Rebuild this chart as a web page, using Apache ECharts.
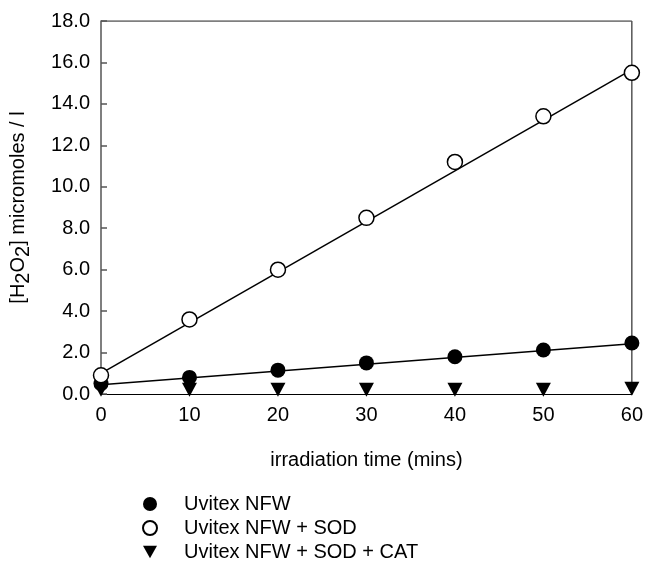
<!DOCTYPE html>
<html>
<head>
<meta charset="utf-8">
<script src="https://cdn.jsdelivr.net/npm/echarts@6/dist/echarts.min.js"></script>
<style>
  html, body { margin: 0; padding: 0; background: #fff; }
  #chart { width: 646px; height: 562px; }
</style>
</head>
<body>
<div id="chart"></div>
<script>
// irradiation time (mins)
const times = [0, 10, 20, 30, 40, 50, 60]
// [H2O2] micromoles / l
const nfw = [0.5, 0.8, 1.15, 1.5, 1.8, 2.12, 2.46]
const nfwSod = [0.9, 3.6, 6.0, 8.5, 11.2, 13.4, 15.5]
const nfwSodCat = [0.2, 0.2, 0.2, 0.2, 0.2, 0.2, 0.25]
// fitted lines, value at 0 and 60 mins
const nfwFit = [0.45, 2.43]
const nfwSodFit = [1.0, 15.65]
const fitX = [0, 60]

const names = ['Uvitex NFW', 'Uvitex NFW + SOD', 'Uvitex NFW + SOD + CAT']
const font = 'Liberation Sans, Arial, sans-serif'
const fs = 20
const downTriangle = 'path://M0,0 L10,0 L5,9 Z'

const pairs = (xs, ys) => xs.map((x, i) => [x, ys[i]])

const chart = echarts.init(document.getElementById('chart'))

chart.setOption({
    animation: false,
    grid: { left: 101, right: 13, top: 21, bottom: 168 },
    xAxis: {
        type: 'value',
        min: 0,
        max: 60,
        interval: 10,
        name: 'irradiation time (mins)',
        nameLocation: 'middle',
        nameGap: 56,
        nameTextStyle: { fontFamily: font, fontSize: fs, color: '#000' },
        axisLine: { onZero: false, lineStyle: { color: '#000', width: 1 } },
        axisTick: { inside: true, length: 6, lineStyle: { color: '#000' } },
        axisLabel: { fontFamily: font, fontSize: fs, color: '#000', margin: 11 },
        splitLine: { show: false }
    },
    yAxis: {
        type: 'value',
        min: 0,
        max: 18,
        interval: 2,
        name: '[H{sub|2}O{sub|2}] micromoles / l',
        nameLocation: 'middle',
        nameGap: 68,
        nameTextStyle: {
            fontFamily: font, fontSize: fs, color: '#000',
            rich: {
                sub: { fontFamily: font, fontSize: fs, color: '#000', verticalAlign: 'bottom', padding: [10, 0, 0, 0] }
            }
        },
        axisLine: { show: true, lineStyle: { color: '#555', width: 1.5 } },
        axisTick: { inside: true, length: 6, lineStyle: { color: '#555', width: 1.5 } },
        axisLabel: {
            fontFamily: font, fontSize: fs, color: '#000', margin: 11,
            formatter: v => v.toFixed(1)
        },
        splitLine: { show: false }
    },
    legend: {
        orient: 'vertical',
        left: 142,
        top: 494,
        padding: 0,
        height: 80,
        itemWidth: 14,
        itemHeight: 14,
        itemGap: 4,
        selectedMode: false,
        data: [
            { name: names[0], icon: 'circle' },
            { name: names[1], icon: 'circle' },
            { name: names[2], icon: downTriangle }
        ],
        textStyle: { fontFamily: font, fontSize: fs, color: '#000', padding: [0, 0, 0, 22] }
    },
    series: [
        {
            type: 'line',
            data: pairs(fitX, nfwSodFit),
            symbol: 'none',
            silent: true,
            lineStyle: { color: '#000', width: 1.5 },
            z: 1
        },
        {
            type: 'line',
            data: pairs(fitX, nfwFit),
            symbol: 'none',
            silent: true,
            lineStyle: { color: '#000', width: 1.5 },
            z: 1
        },
        {
            // right frame line
            type: 'line',
            data: [[60, 0], [60, 18]],
            symbol: 'none',
            silent: true,
            lineStyle: { color: '#000', width: 1 },
            z: 1
        },
        {
            // top frame line
            type: 'line',
            data: [[0, 18], [60, 18]],
            symbol: 'none',
            silent: true,
            lineStyle: { color: '#555', width: 1.5 },
            z: 1
        },
        {
            name: names[0],
            type: 'scatter',
            data: pairs(times, nfw),
            symbol: 'circle',
            symbolSize: 15,
            itemStyle: { color: '#000', opacity: 1 },
            z: 3
        },
        {
            name: names[1],
            type: 'scatter',
            data: pairs(times, nfwSod),
            symbol: 'circle',
            symbolSize: 15,
            itemStyle: { color: '#fff', borderColor: '#000', borderWidth: 1.5, opacity: 1 },
            z: 3
        },
        {
            name: names[2],
            type: 'scatter',
            data: pairs(times, nfwSodCat),
            symbol: downTriangle,
            symbolSize: [15, 14],
            itemStyle: { color: '#000', opacity: 1 },
            z: 4
        }
    ]
})
</script>
</body>
</html>
